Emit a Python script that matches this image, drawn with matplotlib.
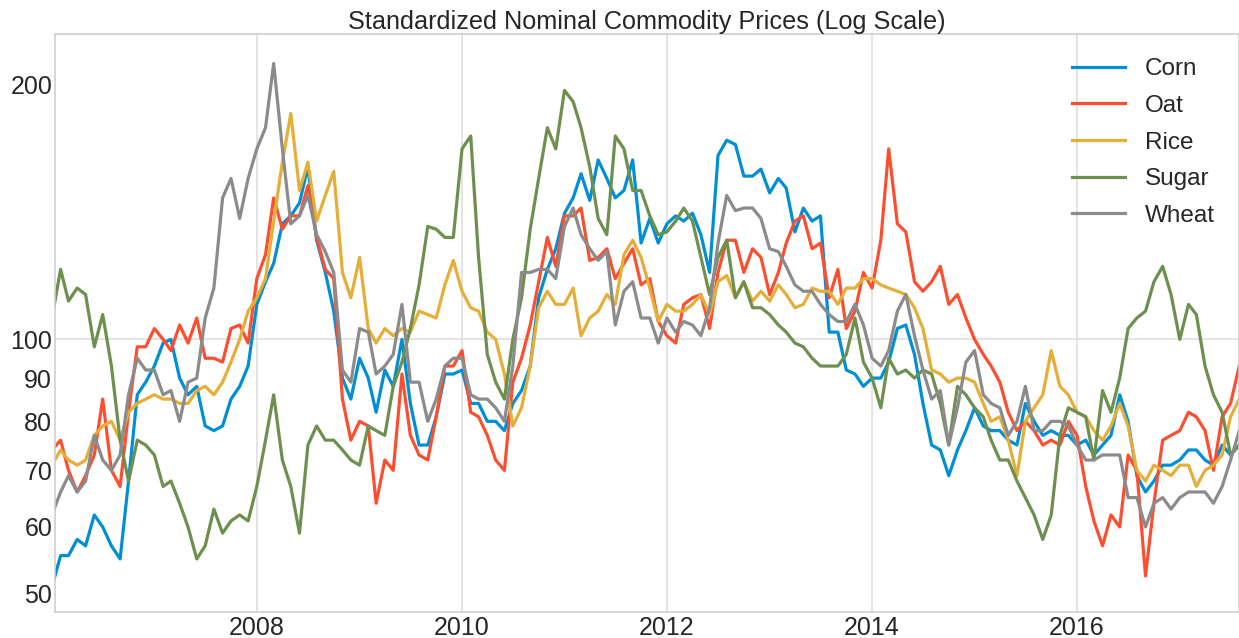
import matplotlib
matplotlib.use("Agg")
import matplotlib.pyplot as plt
import matplotlib.ticker as mticker
import matplotlib.dates as mdates
import pandas as pd

# Monthly samples, Jan 2006 .. Aug 2017
dates = pd.date_range("2006-01-01", periods=140, freq="MS")

corn = [51, 55.5, 55.5, 58, 57, 62, 60, 57, 55, 68, 86, 89, 93, 99, 100, 90, 86, 88, 79, 78, 79, 85, 88, 93,
        110, 117, 123, 137, 140, 145, 160, 131, 120, 108, 90, 85, 95, 90, 82, 92, 88, 100, 84, 75, 75, 81, 91, 91,
        92, 84, 84, 80, 80, 78, 84, 87, 93, 112, 121, 128, 141, 147, 157, 146, 163, 155, 147, 150, 163, 130, 139, 130,
        137, 140, 138, 141, 133, 120, 165, 172, 170, 156, 156, 159, 149, 155, 151, 134, 143, 138, 140, 102, 102, 92, 91, 88,
        90, 90, 94, 103, 104, 96, 84, 75, 74, 69, 74, 78, 83, 79, 78, 78, 76, 75, 84, 80, 77, 78, 77, 77,
        75, 76, 73, 75, 77, 86, 80, 69, 66, 68, 71, 71, 72, 74, 74, 72, 71, 75, 73, 75]

oat = [74, 76, 70, 66, 69, 73, 85, 70, 67, 82, 98, 98, 103, 100, 97, 104, 99, 106, 95, 95, 94, 103, 104, 99,
       118, 126, 147, 135, 140, 140, 152, 132, 121, 118, 85, 76, 80, 79, 64, 72, 70, 91, 77, 73, 72, 81, 93, 93,
       97, 82, 81, 77, 72, 70, 89, 95, 104, 117, 132, 122, 140, 140, 143, 124, 125, 128, 118, 123, 128, 116, 118, 105,
       101, 99, 110, 112, 113, 103, 120, 131, 131, 120, 128, 125, 113, 120, 130, 138, 140, 128, 130, 112, 121, 103, 108, 120,
       115, 131, 168, 137, 134, 117, 114, 117, 122, 110, 113, 106, 100, 96, 93, 89, 82, 78, 80, 78, 75, 76, 75, 80,
       77, 67, 61, 57, 62, 60, 73, 70, 52.5, 64, 76, 77, 78, 82, 81, 78, 70, 81, 84, 93]

rice = [71, 74, 72, 71, 72, 77, 79, 80, 76, 82, 84, 85, 86, 85, 85, 84, 84, 87, 88, 86, 89, 94, 100, 108,
        112, 118, 138, 162, 185, 150, 162, 138, 148, 158, 120, 112, 125, 103, 99, 103, 101, 103, 102, 108, 107, 106, 116, 124,
        114, 109, 108, 102, 100, 91, 79, 83, 93, 109, 114, 110, 110, 115, 101, 106, 108, 113, 110, 126, 131, 125, 115, 105,
        110, 108, 108, 110, 113, 107, 117, 119, 112, 117, 111, 114, 111, 116, 113, 109, 110, 115, 114, 114, 110, 115, 115, 118,
        118, 116, 115, 114, 113, 109, 103, 92, 91, 89, 90, 90, 89, 84, 80, 81, 76, 69, 80, 83, 86, 97, 88, 86,
        82, 81, 78, 76, 79, 84, 79, 70, 68, 71, 70, 69, 71, 71, 67, 70, 71, 73, 81, 85]

sugar = [106, 121, 111, 115, 113, 98, 107, 93, 76, 68, 76, 75, 73, 67, 68, 64, 60, 55, 57, 63, 59, 61, 62, 61,
         67, 76, 86, 72, 67, 59, 75, 79, 76, 76, 74, 72, 71, 79, 78, 77, 88, 94, 103, 116, 136, 135, 132, 132,
         168, 174, 125, 96, 89, 85, 100, 112, 135, 155, 178, 168, 197, 191, 178, 160, 139, 133, 174, 168, 150, 150, 140, 133,
         134, 138, 143, 138, 125, 113, 125, 131, 112, 117, 109, 109, 107, 104, 102, 99, 98, 95, 93, 93, 93, 96, 106, 94,
         90, 83, 95, 91, 92, 90, 92, 91, 84, 75, 88, 86, 83, 81, 76, 72, 72, 68, 65, 62, 58, 62, 77, 83,
         82, 81, 72, 87, 82, 90, 103, 106, 108, 117, 122, 113, 100, 110, 107, 93, 86, 82, 73, 75]

wheat = [62, 66, 69, 66, 68, 77, 72, 70, 73, 86, 95, 92, 92, 86, 87, 80, 89, 90, 106, 115, 147, 155, 139, 155,
         168, 178, 212, 168, 137, 140, 148, 133, 127, 120, 92, 89, 103, 102, 91, 93, 96, 110, 89, 89, 80, 85, 93, 95,
         95, 86, 85, 85, 83, 80, 93, 120, 120, 121, 121, 118, 136, 143, 133, 128, 124, 127, 104, 114, 117, 106, 106, 99,
         106, 102, 105, 104, 101, 109, 130, 148, 142, 143, 143, 139, 128, 127, 122, 116, 114, 114, 110, 107, 105, 105, 110, 104,
         95, 93, 97, 108, 113, 101, 92, 85, 87, 75, 83, 94, 97, 86, 84, 83, 77, 80, 88, 78, 78, 80, 80, 79,
         75, 72, 72, 73, 73, 73, 65, 65, 60, 64, 65, 63, 65, 66, 66, 66, 64, 67, 72, 78]

series_names = ["Corn", "Oat", "Rice", "Sugar", "Wheat"]
series_values = [corn, oat, rice, sugar, wheat]
colors = ["#008fd5", "#fc4f30", "#e5ae38", "#6d904f", "#8b8b8b"]

major_yticks = [100]
minor_yticks = [50, 60, 70, 80, 90, 200]
title = "Standardized Nominal Commodity Prices (Log Scale)"

plt.rcParams["font.family"] = ["Liberation Sans", "DejaVu Sans"]
plt.rcParams["text.color"] = "#262626"

fig = plt.figure(figsize=(12.39, 6.38), dpi=100)
ax = fig.add_axes([55 / 1239, 1 - 612 / 638, 1 - 55 / 1239, (612 - 34) / 638])
ax.set_facecolor("white")

for name, vals, c in zip(series_names, series_values, colors):
    ax.plot(dates[:len(vals)], vals, color=c, lw=2.3, label=name)

ax.set_yscale("log")
ax.set_ylim(47.6, 229.7)
ax.set_xlim(pd.Timestamp("2006-01-12"), pd.Timestamp("2017-07-31"))

ax.yaxis.set_major_locator(mticker.FixedLocator(major_yticks))
ax.yaxis.set_major_formatter(mticker.FixedFormatter([str(v) for v in major_yticks]))
ax.yaxis.set_minor_locator(mticker.FixedLocator(minor_yticks))
ax.yaxis.set_minor_formatter(mticker.FixedFormatter([str(v) for v in minor_yticks]))

ax.xaxis.set_major_locator(mdates.YearLocator(2))
ax.xaxis.set_major_formatter(mdates.DateFormatter("%Y"))
ax.xaxis.set_minor_locator(mticker.NullLocator())

ax.tick_params(axis="y", which="both", length=0, labelsize=18, labelcolor="#262626", pad=2)
ax.tick_params(axis="x", which="both", length=0, labelsize=18, labelcolor="#262626", pad=3)
ax.grid(True, which="major", color="#dddddd", lw=1.1)
ax.set_axisbelow(True)
for s in ax.spines.values():
    s.set_color("#cccccc")
    s.set_linewidth(1.1)

ax.set_title(title, fontsize=18.2, color="#262626", pad=3)

leg = ax.legend(loc="upper right", fontsize=17.5, frameon=False, handlelength=2.2,
                borderaxespad=0.6, labelspacing=0.6)

fig.savefig("out.png", dpi=100, facecolor="white")
